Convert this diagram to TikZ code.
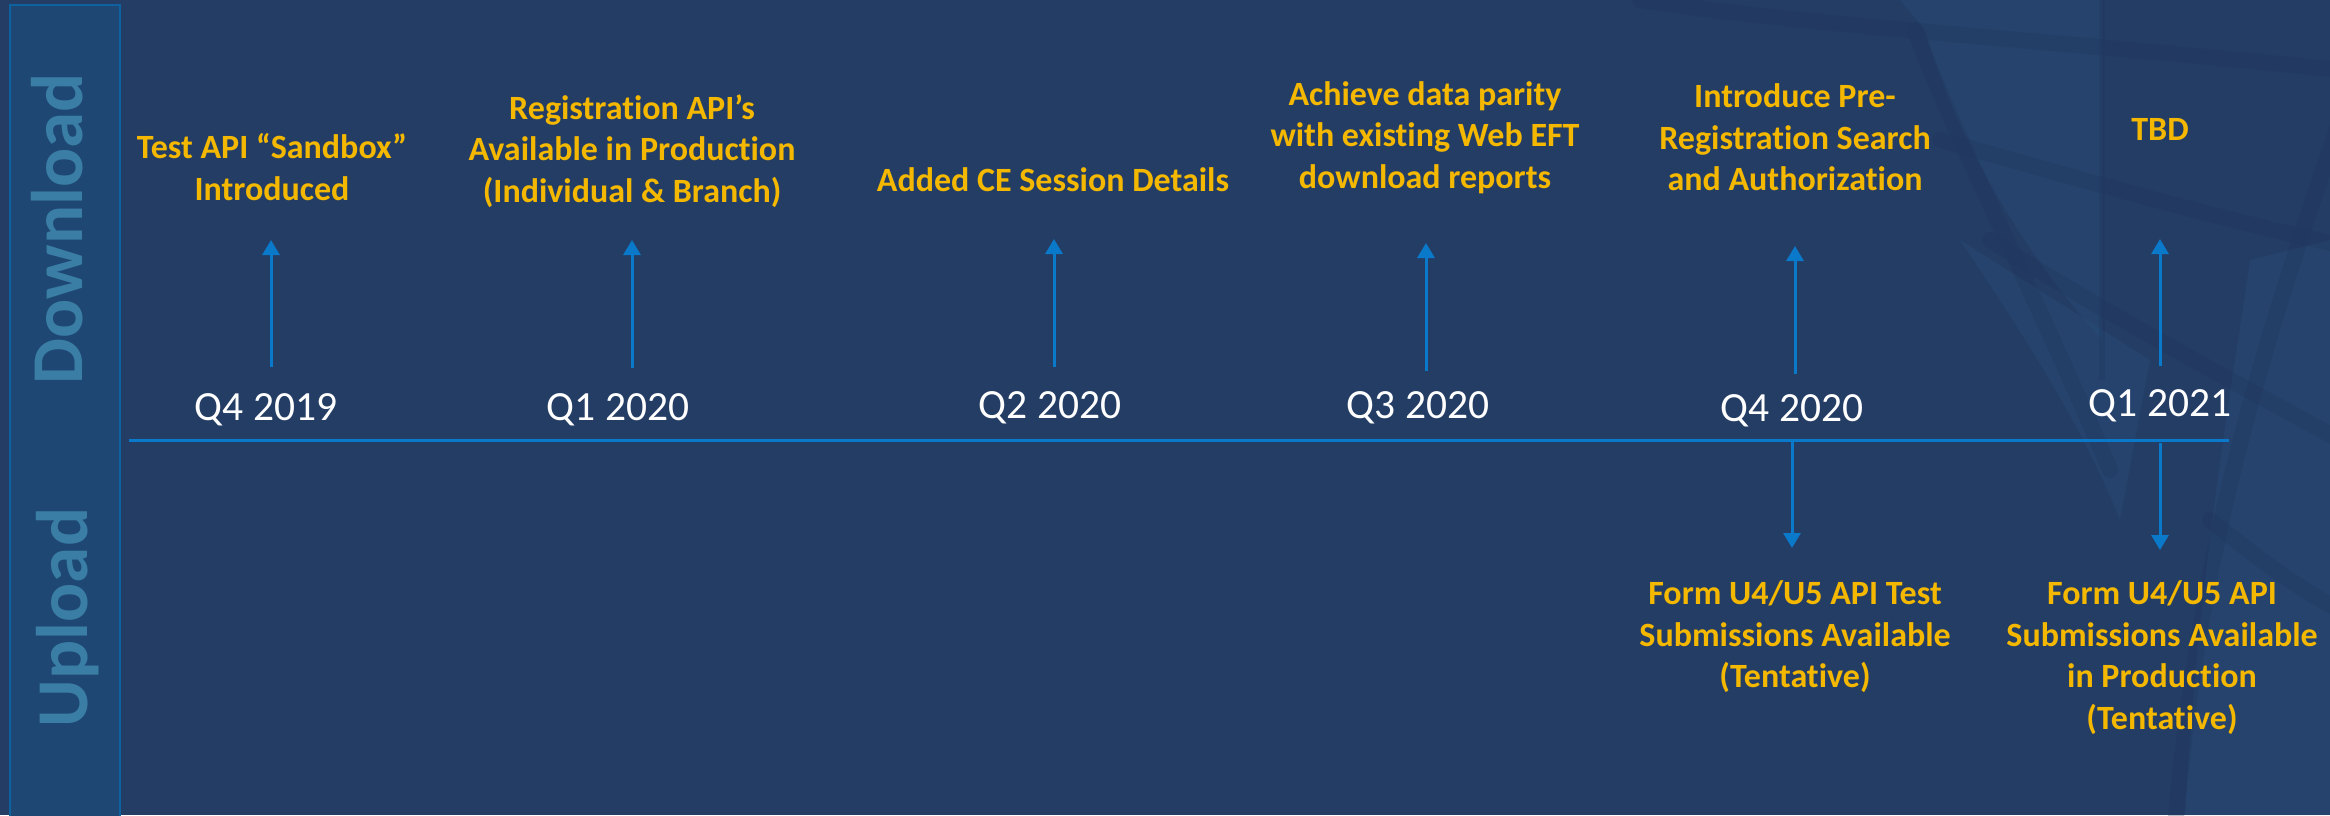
\documentclass[tikz,border=0pt]{standalone}
\usepackage{fontspec}
\setmainfont{Carlito}[Ligatures={NoCommon}]
\usetikzlibrary{arrows.meta}
\definecolor{bg}{HTML}{243D65}
\definecolor{sidefill}{HTML}{1E4873}
\definecolor{sideline}{HTML}{0F62A0}
\definecolor{sidetext}{HTML}{3A7EA6}
\definecolor{gold}{HTML}{F4B800}
\definecolor{tlblue}{HTML}{0B79CA}
\definecolor{meshdark}{HTML}{1F355C}
\definecolor{meshlight}{HTML}{28517F}
\begin{document}
\begin{tikzpicture}[x=1pt,y=-1pt,
  event/.style={text=gold, font=\fontsize{34}{41.5}\selectfont\bfseries, align=center, inner sep=0pt, anchor=base},
  quarter/.style={text=white, font=\fontsize{41.5}{50}\selectfont, inner sep=0pt, anchor=base},
  side/.style={text=sidetext, font=\fontsize{73}{80}\selectfont\bfseries, inner sep=0pt, anchor=base, rotate=90},
  arr/.style={draw=tlblue, line width=3pt, -{Triangle[width=17pt,length=15pt]}},
  tline/.style={draw=tlblue, line width=3pt},
  mesh/.style={draw=meshdark, line width=16pt, opacity=0.3, line cap=round},
  meshpatch/.style={fill=meshlight, opacity=0.3}]
\useasboundingbox (0,0) rectangle (2330,815);
\clip (0,0) rectangle (2330,815);
\fill[bg] (0,0) rectangle (2330,815);
% background globe mesh (faint)
\fill[meshpatch] (1925,30) .. controls (1960,150) and (2030,260) .. (2102,340) -- (2102,0) -- (1900,0) -- cycle;
\fill[meshpatch] (2250,260) .. controls (2230,400) and (2200,560) .. (2185,815) -- (2330,815) -- (2330,240) -- cycle;
\fill[meshpatch] (1960,240) .. controls (2020,330) and (2080,420) .. (2120,520) -- (2150,360) -- cycle;
\draw[mesh] (1640,0) .. controls (1800,25) and (2050,40) .. (2340,70);
\draw[mesh] (1915,30) .. controls (1960,150) and (2020,260) .. (2110,470);
\draw[mesh] (1940,140) .. controls (2050,170) and (2200,215) .. (2340,245);
\draw[mesh] (1990,240) .. controls (2100,310) and (2230,380) .. (2340,440);
\draw[mesh] (2340,120) .. controls (2280,300) and (2200,520) .. (2175,830);
\draw[mesh] (2210,520) .. controls (2260,560) and (2300,590) .. (2340,610);
\draw[meshdark, line width=6pt, opacity=0.25] (2102,0) -- (2102,380);
% side panel
\draw[fill=sidefill, draw=sideline, line width=2.5pt] (10,5) rectangle (120,830);
\node[side] (down) at (82,229) {Download};
\node[side] (up) at (87,617.5) {Upload};
% timeline
\coordinate (tl0) at (129,440);
\coordinate (tl1) at (2229,440);
\draw[tline] (tl0) -- (tl1);
% quarters
\node[quarter] (q1) at (266,420) {Q4 2019};
\node[quarter] (q2) at (618,420) {Q1 2020};
\node[quarter] (q3) at (1050,418) {Q2 2020};
\node[quarter] (q4) at (1418,418) {Q3 2020};
\node[quarter] (q5) at (1792,421) {Q4 2020};
\node[quarter] (q6) at (2160,416) {Q1 2021};
% events (download); anchor base = baseline of last line
\node[event] (e1) at (272,200) {Test API “Sandbox”\\Introduced};
\node[event] (e2) at (632,202) {Registration API’s\\Available in Production\\(Individual \& Branch)};
\node[event] (e3) at (1053,191) {Added CE Session Details};
\node[event] (e4) at (1425,188) {Achieve data parity\\with existing Web EFT\\download reports};
\node[event] (e5) at (1795,190.5) {Introduce Pre-\\Registration Search\\and Authorization};
\node[event] (e6) at (2160,140) {TBD};
% events (upload)
\node[event] (u1) at (1795,687.5) {Form U4/U5 API Test\\Submissions Available\\(Tentative)};
\node[event] (u2) at (2162,729) {Form U4/U5 API\\Submissions Available\\in Production\\(Tentative)};
% arrow end points
\coordinate (a1s) at (271,367); \coordinate (a1e) at (271,240);
\coordinate (a2s) at (632,368); \coordinate (a2e) at (632,240);
\coordinate (a3s) at (1054,367); \coordinate (a3e) at (1054,239);
\coordinate (a4s) at (1426,371); \coordinate (a4e) at (1426,243);
\coordinate (a5s) at (1795,374); \coordinate (a5e) at (1795,246);
\coordinate (a6s) at (2160,366); \coordinate (a6e) at (2160,239);
\coordinate (d1s) at (1792,440); \coordinate (d1e) at (1792,548);
\coordinate (d2s) at (2160,443); \coordinate (d2e) at (2160,550);
\draw[arr] (a1s) -- (a1e);
\draw[arr] (a2s) -- (a2e);
\draw[arr] (a3s) -- (a3e);
\draw[arr] (a4s) -- (a4e);
\draw[arr] (a5s) -- (a5e);
\draw[arr] (a6s) -- (a6e);
\draw[arr] (d1s) -- (d1e);
\draw[arr] (d2s) -- (d2e);
\end{tikzpicture}
\end{document}
